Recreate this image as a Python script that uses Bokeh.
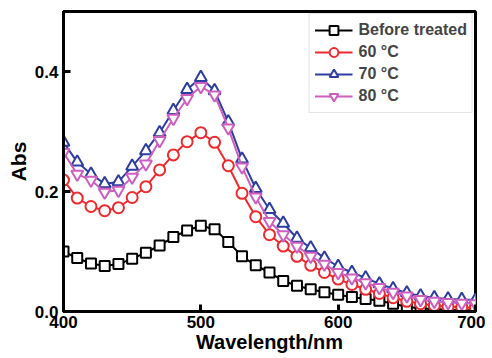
from bokeh.plotting import figure
from bokeh.models import FixedTicker, NumeralTickFormatter, Legend, LegendItem, Range1d
from bokeh.embed import file_html
from bokeh.resources import INLINE

wavelength = [400, 410, 420, 430, 440, 450, 460, 470, 480, 490, 500, 510, 520, 530, 540,
              550, 560, 570, 580, 590, 600, 610, 620, 630, 640, 650, 660, 670, 680, 690, 700]
before = [0.100, 0.089, 0.080, 0.076, 0.079, 0.088, 0.098, 0.110, 0.124, 0.135, 0.143, 0.137,
          0.116, 0.092, 0.077, 0.065, 0.051, 0.043, 0.037, 0.032, 0.028, 0.024, 0.021, 0.018,
          0.013, 0.008, 0.005, 0.004, 0.003, 0.002, 0.002]
t60 = [0.219, 0.189, 0.175, 0.168, 0.173, 0.190, 0.208, 0.236, 0.261, 0.283, 0.298, 0.282,
       0.243, 0.197, 0.158, 0.128, 0.109, 0.092, 0.077, 0.065, 0.054, 0.045, 0.037, 0.030,
       0.023, 0.017, 0.013, 0.010, 0.008, 0.007, 0.006]
t70 = [0.282, 0.249, 0.229, 0.213, 0.216, 0.242, 0.268, 0.298, 0.335, 0.370, 0.390, 0.368,
       0.316, 0.254, 0.205, 0.170, 0.147, 0.122, 0.106, 0.089, 0.075, 0.065, 0.056, 0.046,
       0.038, 0.031, 0.026, 0.023, 0.021, 0.020, 0.019]
t80 = [0.265, 0.229, 0.219, 0.199, 0.202, 0.224, 0.246, 0.285, 0.322, 0.355, 0.375, 0.361,
       0.306, 0.241, 0.191, 0.150, 0.128, 0.109, 0.092, 0.079, 0.065, 0.056, 0.048, 0.040,
       0.032, 0.026, 0.020, 0.017, 0.015, 0.014, 0.013]
labels = ["Before treated", "60 \u00b0C", "70 \u00b0C", "80 \u00b0C"]
x_ticks = [400, 500, 600, 700]
y_ticks = [0.0, 0.2, 0.4]
x_title = "Wavelength/nm"
y_title = "Abs"

FONT = "Liberation Sans"

p = figure(frame_width=412, frame_height=300, output_backend="svg", toolbar_location=None,
           x_range=Range1d(400, 700), y_range=Range1d(0, 0.5),
           min_border_left=63, min_border_top=11, min_border_right=10, min_border_bottom=0)
p.grid.visible = False
p.outline_line_color = "black"
p.outline_line_width = 3
p.background_fill_color = "white"
p.border_fill_color = "white"

for ax in (p.xaxis[0], p.yaxis[0]):
    ax.axis_line_width = 3
    ax.axis_line_color = "black"
    ax.major_tick_in = 7
    ax.major_tick_out = 0
    ax.major_tick_line_width = 3
    ax.minor_tick_in = 0
    ax.minor_tick_out = 0
    ax.major_label_text_font = FONT
    ax.major_label_text_font_style = "bold"
    ax.major_label_text_font_size = "17px"
    ax.major_label_text_color = "black"
    ax.axis_label_text_font = FONT
    ax.axis_label_text_font_style = "bold"
    ax.axis_label_text_font_size = "20px"
    ax.axis_label_text_color = "black"

p.xaxis.ticker = FixedTicker(ticks=x_ticks)
p.yaxis.ticker = FixedTicker(ticks=y_ticks)
p.yaxis.formatter = NumeralTickFormatter(format="0.0")
p.xaxis.axis_label = x_title
p.yaxis.axis_label = y_title
p.xaxis.major_label_standoff = 4
p.xaxis.axis_label_standoff = 0
p.yaxis.major_label_standoff = 5
p.yaxis.axis_label_standoff = 2
p.yaxis.axis_label_text_font_size = "21px"

series = [
    (before, "black", "square", 10),
    (t60, "#EE2A2E", "circle", 11),
    (t70, "#2E3DA0", "triangle", 12),
    (t80, "#CC5FC0", "inverted_triangle", 12),
]
items = []
for (ys, color, marker, size), lab in zip(series, labels):
    l = p.line(wavelength, ys, line_color=color, line_width=2)
    m = p.scatter(wavelength, ys, marker=marker, size=size, line_color=color,
                  fill_color="white", line_width=2)
    items.append(LegendItem(label=lab, renderers=[l, m]))

legend = Legend(items=items, location="top_right", margin=2, padding=5, spacing=0,
                label_text_font=FONT, label_text_font_style="bold",
                label_text_font_size="16px", label_height=22, glyph_height=22,
                glyph_width=38, label_standoff=6,
                border_line_color="#c8c8c8", border_line_width=1,
                background_fill_color="white", background_fill_alpha=1)
p.add_layout(legend)

open("out.html", "w").write(file_html(p, INLINE))
